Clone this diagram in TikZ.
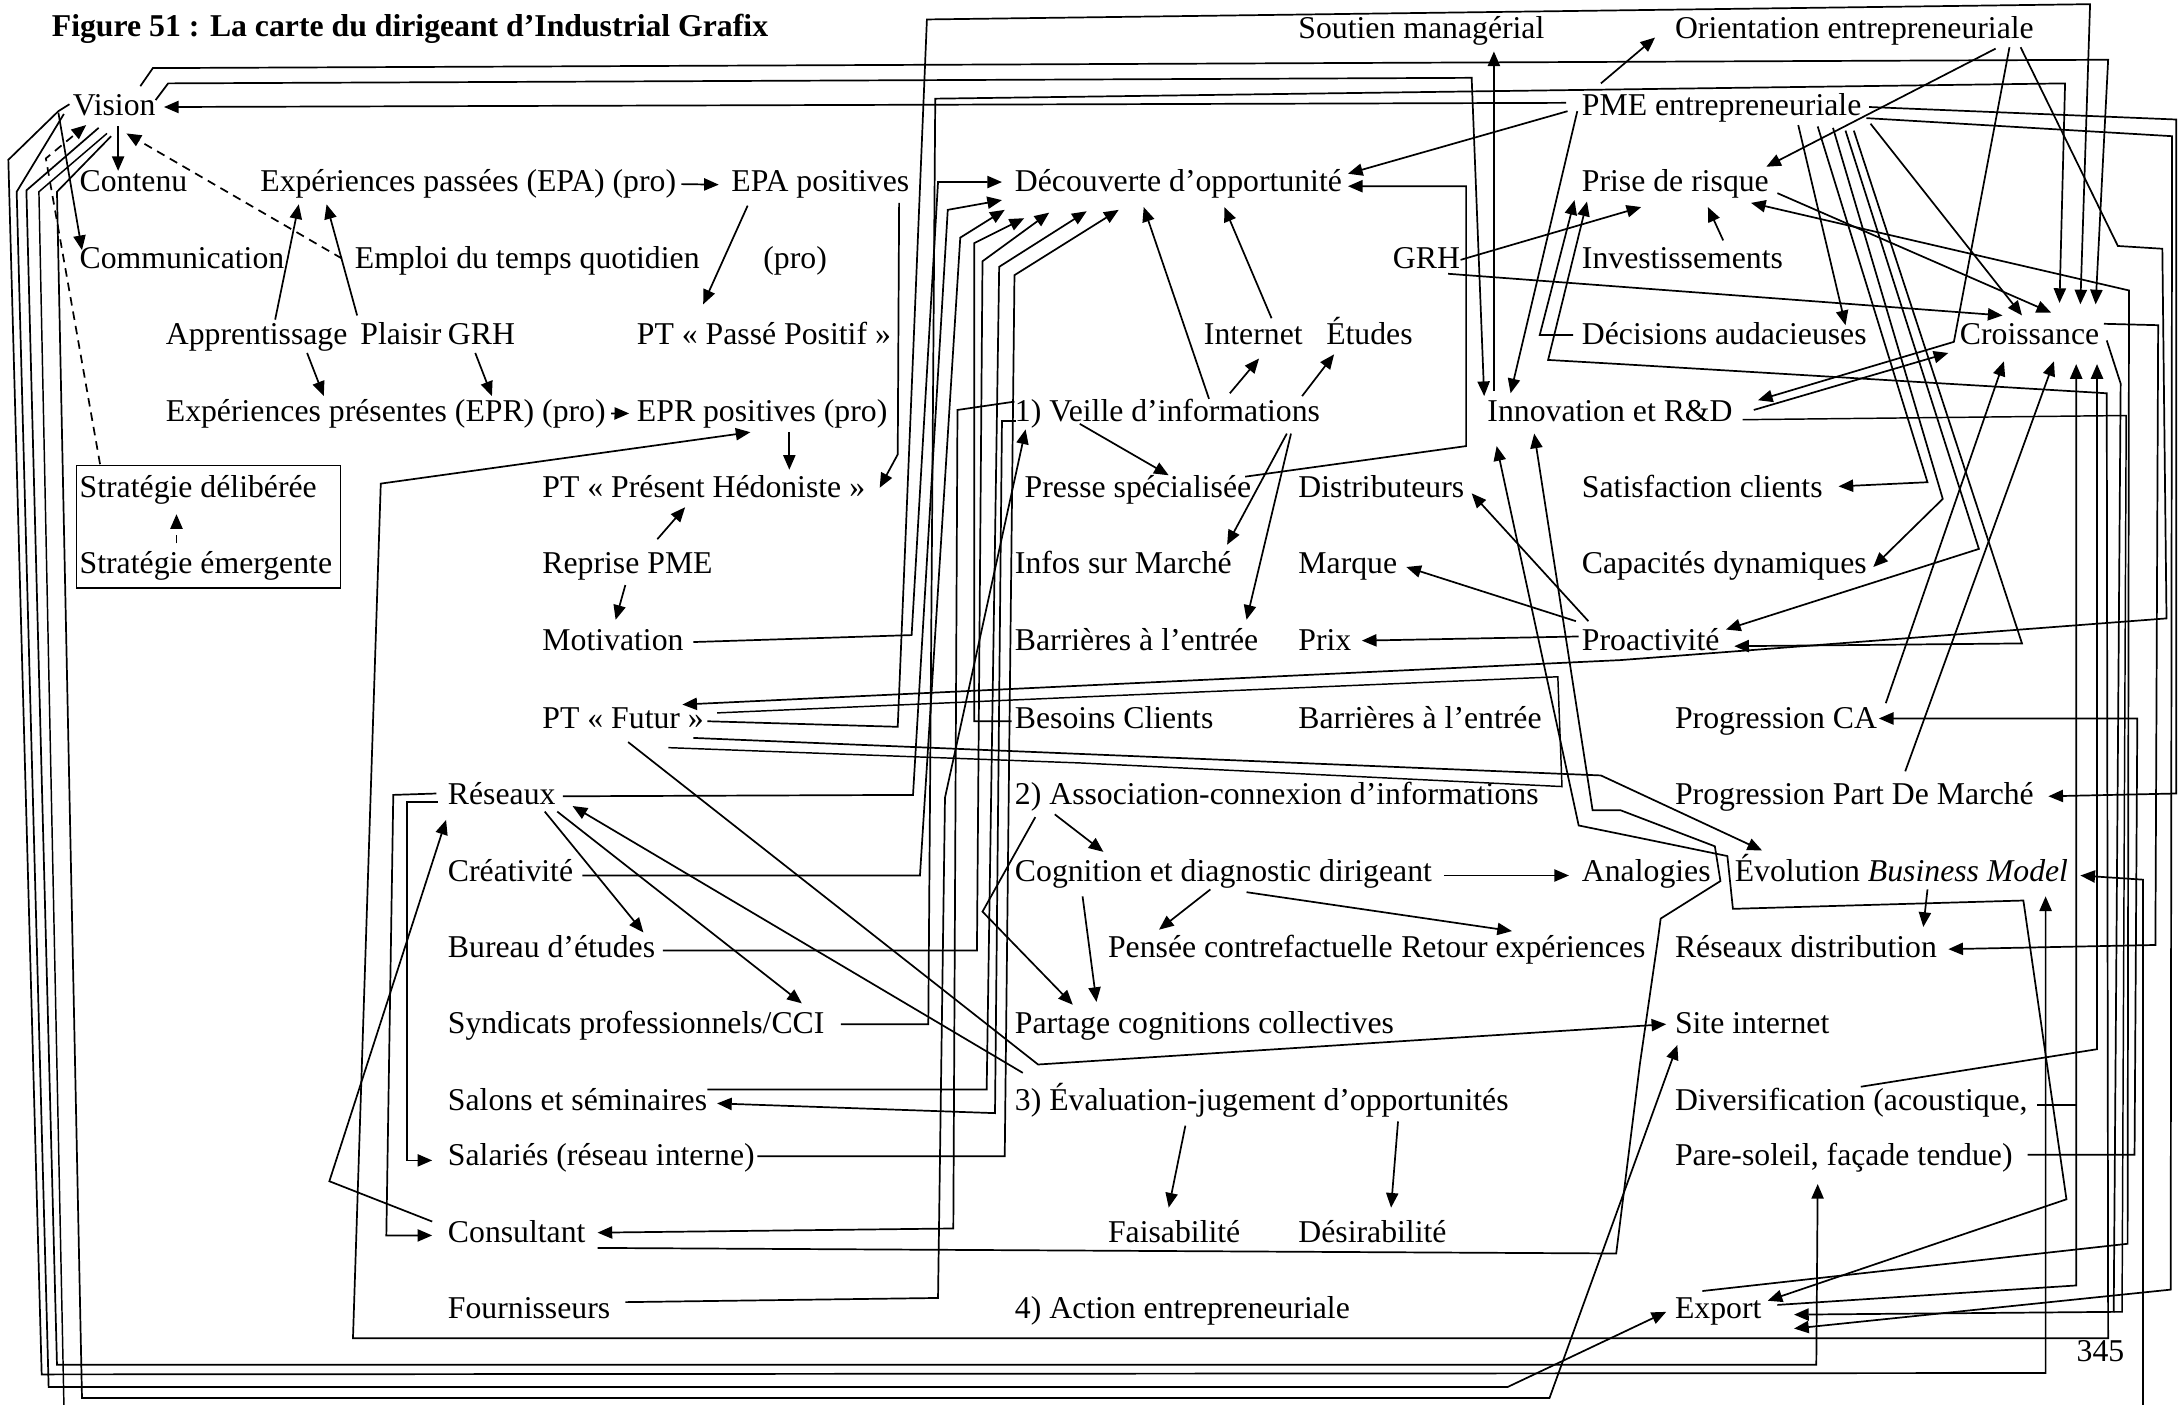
\documentclass[tikz,border=0pt]{standalone}
\usepackage{fontspec}
\setmainfont{Liberation Serif}
\usetikzlibrary{arrows.meta}

\begin{document}
\begin{tikzpicture}[x=0.02cm, y=-0.02cm,
    txt/.style={anchor=base west, inner sep=0pt, font=\fontsize{13}{15}\selectfont},
    ln/.style={line width=0.6pt},
    arr/.style={line width=0.7pt, -{Triangle[length=6pt,width=5pt]}},
    barr/.style={line width=0.7pt, {Triangle[length=6pt,width=5pt]}-{Triangle[length=6pt,width=5pt]}},
    dsh/.style={line width=0.7pt, dash pattern=on 3.5pt off 2.5pt}]
  \fill[white] (0,0) rectangle (1568,1011);
  \useasboundingbox (0,0) rectangle (1568,1011);

  % textes
  \node[txt, font=\bfseries\fontsize{13}{15}\selectfont] (titre) at (37,26) {Figure 51 : La carte du dirigeant d’Industrial Grafix};
  \node[txt] (soutien) at (934,28) {Soutien managérial};
  \node[txt] (orient) at (1205,28) {Orientation entrepreneuriale};
  \node[txt] (vision) at (52,83) {Vision};
  \node[txt] (pme) at (1138,83) {PME entrepreneuriale};
  \node[txt] (contenu) at (57,138) {Contenu};
  \node[txt] (exppa) at (187,138) {Expériences passées (EPA) (pro)};
  \node[txt] (epapos) at (526,138) {EPA positives};
  \node[txt] (decouv) at (730,138) {Découverte d’opportunité};
  \node[txt] (prise) at (1138,138) {Prise de risque};
  \node[txt] (comm) at (57,193) {Communication};
  \node[txt] (emploi) at (255,193) {Emploi du temps quotidien};
  \node[txt] (pro) at (549,193) {(pro)};
  \node[txt] (grhr) at (1002,193) {GRH};
  \node[txt] (invest) at (1138,193) {Investissements};
  \node[txt] (apprent) at (119,248) {Apprentissage};
  \node[txt] (plaisir) at (259,248) {Plaisir};
  \node[txt] (grhl) at (322,248) {GRH};
  \node[txt] (ptpasse) at (458,248) {PT « Passé Positif »};
  \node[txt] (internet) at (866,248) {Internet};
  \node[txt] (etudes) at (954,248) {Études};
  \node[txt] (decis) at (1138,248) {Décisions audacieuses};
  \node[txt] (croiss) at (1410,248) {Croissance};
  \node[txt] (exppr) at (119,303) {Expériences présentes (EPR) (pro)};
  \node[txt] (eprpos) at (458,303) {EPR positives (pro)};
  \node[txt] (veille) at (730,303) {1) Veille d’informations};
  \node[txt] (innov) at (1070,303) {Innovation et R\&D};
  \node[txt] (stratd) at (57,358) {Stratégie délibérée};
  \node[txt] (ptpres) at (390,358) {PT « Présent Hédoniste »};
  \node[txt] (presse) at (737,358) {Presse spécialisée};
  \node[txt] (distrib) at (934,358) {Distributeurs};
  \node[txt] (satisf) at (1138,358) {Satisfaction clients};
  \node[txt] (strate) at (57,413) {Stratégie émergente};
  \node[txt] (reprise) at (390,413) {Reprise PME};
  \node[txt] (infos) at (730,413) {Infos sur Marché};
  \node[txt] (marque) at (934,413) {Marque};
  \node[txt] (capac) at (1138,413) {Capacités dynamiques};
  \node[txt] (motiv) at (390,468) {Motivation};
  \node[txt] (barrA) at (730,468) {Barrières à l’entrée};
  \node[txt] (prix) at (934,468) {Prix};
  \node[txt] (proact) at (1138,468) {Proactivité};
  \node[txt] (ptfutur) at (390,524) {PT « Futur »};
  \node[txt] (besoins) at (730,524) {Besoins Clients};
  \node[txt] (barrB) at (934,524) {Barrières à l’entrée};
  \node[txt] (progca) at (1205,524) {Progression CA};
  \node[txt] (reseaux) at (322,579) {Réseaux};
  \node[txt] (assoc) at (730,579) {2) Association-connexion d’informations};
  \node[txt] (progpdm) at (1205,579) {Progression Part De Marché};
  \node[txt] (creat) at (322,634) {Créativité};
  \node[txt] (cognit) at (730,634) {Cognition et diagnostic dirigeant};
  \node[txt] (analog) at (1138,634) {Analogies};
  \node[txt] (evol) at (1248,634) {Évolution \textit{Business Model}};
  \node[txt] (bureau) at (322,689) {Bureau d’études};
  \node[txt] (pensee) at (797,689) {Pensée contrefactuelle};
  \node[txt] (retour) at (1008,689) {Retour expériences};
  \node[txt] (resdist) at (1205,689) {Réseaux distribution};
  \node[txt] (syndic) at (322,744) {Syndicats professionnels/CCI};
  \node[txt] (partage) at (730,744) {Partage cognitions collectives};
  \node[txt] (site) at (1205,744) {Site internet};
  \node[txt] (salons) at (322,799) {Salons et séminaires};
  \node[txt] (evalu) at (730,799) {3) Évaluation-jugement d’opportunités};
  \node[txt] (divers) at (1205,799) {Diversification (acoustique,};
  \node[txt] (salar) at (322,839) {Salariés (réseau interne)};
  \node[txt] (paresol) at (1205,839) {Pare-soleil, façade tendue)};
  \node[txt] (consult) at (322,894) {Consultant};
  \node[txt] (faisab) at (797,894) {Faisabilité};
  \node[txt] (desir) at (934,894) {Désirabilité};
  \node[txt] (fourn) at (322,949) {Fournisseurs};
  \node[txt] (action) at (730,949) {4) Action entrepreneuriale};
  \node[txt] (export) at (1205,949) {Export};
  \node[txt] (page) at (1494,980) {345};
  \draw[ln] (55,335) rectangle (245,423);

  % bloc gauche
  \draw[arr] (85,91) -- (85,123);
  \draw[arr] (42,81) -- (59,180);
  \draw[arr, dsh] (246,186) -- (91,96);
  \draw[arr, dsh] (72,334) -- (33,114) -- (62,90);
  \draw[arr, dsh] (127,391) -- (127,370);
  \draw[arr] (198,230) -- (215,147);
  \draw[arr] (257,227) -- (235,147);
  \draw[arr] (221,254) -- (233,285);
  \draw[arr] (342,254) -- (354,285);
  \draw[arr] ([xshift=2pt]exppa.east) -- ([xshift=-5pt]epapos.west);
  \draw[arr] ([xshift=2pt]exppr.east) -- ([xshift=-3pt]eprpos.west);
  \draw[arr] (538,148) -- (506,219);
  \draw[arr] (568,311) -- (568,338);
  \draw[arr] (647,146) -- (646,327) -- (633,351);
  \draw[arr] (473,388) -- (493,365);
  \draw[arr] (450,421) -- (443,446);

  % vers Découverte d'opportunité
  \draw[arr] (499,462) -- (656,457) -- (675,131) -- (721,131);
  \draw[arr] (405,573) -- (657,572) -- (682,151) -- (721,144);
  \draw[arr] (419,630) -- (662,630) -- (691,171) -- (723,151);
  \draw[arr] (728,519) -- (701,519) -- (701,175) -- (737,157);
  \draw[arr] (477,684) -- (703,684) -- (707,188) -- (755,153);
  \draw[arr] (509,784) -- (710,784) -- (719,192) -- (782,152);
  \draw[arr] (545,832) -- (723,832) -- (730,198) -- (805,151);

  % veille
  \draw[arr] (730,289) -- (689,295) -- (686,884) -- (430,887);
  \draw[arr] (731,303) -- (721,303) -- (716,801) -- (516,794);
  \draw[arr] (450,937) -- (675,934) -- (680,574) -- (738,309);
  \draw[arr] (605,737) -- (668,737) -- (673,71) -- (1486,60) -- (1482,218);
  \draw[arr] (509,519) -- (646,523) -- (667,14) -- (1504,3) -- (1497,219);
  \draw[arr] (885,283) -- (906,258);
  \draw[arr] (937,285) -- (960,255);
  \draw[arr] (870,287) -- (823,149);
  \draw[arr] (915,229) -- (881,149);
  \draw[arr] (777,305) -- (841,342);
  \draw[arr] (926,312) -- (883,392);
  \draw[arr] (929,312) -- (897,446);
  \draw[arr] (896,343) -- (1055,321) -- (1055,134) -- (970,134);
  \draw[arr] (1128,80) -- (970,125);

  % haut
  \draw[arr] (101,62) -- (110,49) -- (1517,43) -- (1508,219);
  \draw[arr] (112,72) -- (121,60) -- (1059,56) -- (1068,285);
  \draw[arr] (1127,74) -- (118,77);
  \draw[arr] (1152,60) -- (1191,27);
  \draw[arr] (1075,281) -- (1075,37);
  \draw[arr] (1135,80) -- (1087,283);
  \draw[arr] (1051,187) -- (1181,149);
  \draw[arr] (1042,197) -- (1441,227);
  \draw[arr] (1240,173) -- (1229,149);
  \draw[arr] (1132,241) -- (1108,241) -- (1133,144);
  \draw[barr] (540,311) -- (274,348) -- (254,963) -- (1517,963) -- (1516,283) -- (1166,262) -- (1114,259) -- (1142,145);
  \draw[arr] (1436,35) -- (1271,120);
  \draw[arr] (1446,34) -- (1406,246) -- (1265,288);
  \draw[arr] (1262,295) -- (1402,254);
  \draw[arr] (1454,34) -- (1524,177) -- (1556,179) -- (1559,445) -- (1166,475) -- (491,507);
  \draw[arr] (1346,89) -- (1455,227);
  \draw[arr] (1279,139) -- (1476,225);
  \draw[arr] (1294,90) -- (1328,234);
  \draw[arr] (1308,91) -- (1387,347) -- (1323,350);
  \draw[arr] (1319,92) -- (1398,359) -- (1348,408);
  \draw[arr] (1328,94) -- (1424,395) -- (1242,453);
  \draw[arr] (1334,94) -- (1455,463) -- (1248,465);

  % faisceau de droite
  \draw[arr] (1345,77) -- (1566,86) -- (1566,571) -- (1474,573);
  \draw[arr] (1343,85) -- (1563,98) -- (1562,928) -- (1291,956);
  \draw[arr] (1514,233) -- (1553,234) -- (1551,680) -- (1402,683);
  \draw[arr] (1516,245) -- (1526,276) -- (1521,944) -- (1291,946);
  \draw[ln] (1254,302) -- (1530,299) -- (1527,944) -- (1521,944);
  \draw[arr] (1459,831) -- (1536,831) -- (1538,517) -- (1352,517);
  \draw[arr] (1225,929) -- (1531,895) -- (1532,209) -- (1260,146);
  \draw[arr] (1279,939) -- (1494,925) -- (1494,262);
  \draw[ln] (1466,795) -- (1494,795);
  \draw[arr] (1339,782) -- (1509,755) -- (1509,262);
  \draw[arr] (1357,506) -- (1442,260);
  \draw[arr] (1371,555) -- (1478,260);
  \draw[arr] (1542,1011) -- (1542,633) -- (1497,630);
  \draw[arr] (1387,640) -- (1384,667);

  % PT Futur
  \draw[arr] (499,531) -- (1152,558) -- (1268,612);
  \draw[ln] (516,513) -- (791,501) -- (1121,487) -- (1124,566) -- (777,549) -- (481,538);
  \draw[arr] (452,534) -- (747,766) -- (1199,737);

  % réseaux
  \draw[arr] (736,772) -- (412,580);
  \draw[arr] (392,584) -- (463,671);
  \draw[arr] (401,584) -- (577,722);
  \draw[arr] (314,571) -- (283,572) -- (278,889) -- (311,889);
  \draw[arr] (315,577) -- (293,577) -- (293,835) -- (311,835);
  \draw[arr] (311,879) -- (237,850) -- (321,590);

  % cognition, évaluation
  \draw[arr] (745,588) -- (707,656) -- (772,723);
  \draw[arr] (759,586) -- (794,613);
  \draw[arr] (779,645) -- (789,721);
  \draw[arr] (1039,630) -- (1129,630);
  \draw[arr] (871,640) -- (834,669);
  \draw[arr] (897,642) -- (1088,670);
  \draw[arr] (853,810) -- (841,869);
  \draw[arr] (1006,807) -- (1001,869);

  % proactivité
  \draw[arr] (1136,458) -- (980,461);
  \draw[arr] (1134,447) -- (1012,408);
  \draw[arr] (1143,447) -- (1059,355);

  % consultant, innovation, export
  \draw[arr] (430,898) -- (1163,902) -- (1180,766) -- (1193,676) -- (1195,661) -- (1238,634) -- (1234,609) -- (1166,583) -- (1146,583) -- (1104,312);
  \draw[barr] (1077,321) -- (1136,594) -- (1180,603) -- (1243,616) -- (1247,654) -- (1456,648) -- (1487,863) -- (1272,936);

  % lignes du bas depuis Vision
  \draw[arr] (50,75) -- (42,80) -- (6,115) -- (30,989) -- (1472,988) -- (1472,645);
  \draw[arr] (46,82) -- (12,138) -- (35,998) -- (1085,998) -- (1199,944);
  \draw[arr] (71,92) -- (19,137) -- (41,982) -- (1307,982) -- (1308,852);
  \draw[ln] (77,96) -- (28,138) -- (46,1011);
  \draw[arr] (80,98) -- (41,138) -- (59,1006) -- (1115,1006) -- (1207,752);
\end{tikzpicture}
\end{document}
